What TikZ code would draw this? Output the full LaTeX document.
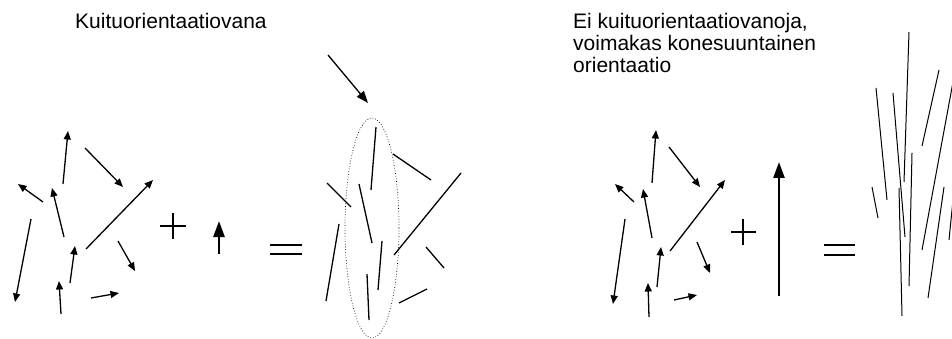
\documentclass[tikz,border=0pt]{standalone}
\usepackage{fontspec}
\setmainfont{Liberation Sans}
\usetikzlibrary{arrows.meta}
\begin{document}
\begin{tikzpicture}[x=1pt,y=-1pt,
  vec/.style={line width=1.3pt,-{Triangle[length=8.5pt,width=7pt]}},
  bigvec/.style={line width=2.6pt,-{Triangle[length=16pt,width=11pt]}},
  fib/.style={line width=1.3pt},
  fibthin/.style={line width=1pt},
  sym/.style={line width=1.4pt},
  eqsym/.style={line width=2.3pt},
  lbl/.style={anchor=base west,inner sep=0pt,font=\fontsize{21}{22}\selectfont}]
\useasboundingbox (0,0) rectangle (952,339);

% titles
\node[lbl] (tl) at (75,29) {Kuituorientaatiovana};
\node[lbl] (tr1) at (573,29) {Ei kuituorientaatiovanoja,};
\node[lbl] (tr2) at (573,51) {voimakas konesuuntainen};
\node[lbl] (tr3) at (573,73) {orientaatio};

% left random fibres (arrows)
\draw[vec] (63,184) -- (68,131);
\draw[vec] (85,148) -- (123,187);
\draw[vec] (86,249) -- (153,180);
\draw[vec] (43,202) -- (18,184);
\draw[vec] (64,237) -- (52,188);
\draw[vec] (31,219) -- (15,302);
\draw[vec] (70,283) -- (75,246);
\draw[vec] (118,241) -- (135,271);
\draw[vec] (61,314) -- (59,281);
\draw[vec] (91,298) -- (119,293);

% plus and small arrow
\draw[sym] (160,226) -- (186,226);
\draw[sym] (173,213) -- (173,239);
\draw[bigvec] (219,254) -- (219,221);

% equals
\draw[eqsym] (270,245) -- (302,245);
\draw[eqsym] (270,254) -- (302,254);

% pointer arrow and ellipse
\draw[line width=1.3pt,-{Triangle[length=12pt,width=9pt]}] (328,55) -- (368,103);
\draw[dotted,line width=0.7pt] (372,228) ellipse [x radius=27, y radius=110];

% middle fibres
\draw[fib] (376,127) -- (371,190);
\draw[fib] (393,154) -- (431,180);
\draw[fib] (327,183) -- (351,207);
\draw[fib] (359,184) -- (372,243);
\draw[fib] (461,173) -- (394,255);
\draw[fib] (339,224) -- (326,301);
\draw[fib] (382,241) -- (378,290);
\draw[fib] (426,247) -- (444,268);
\draw[fib] (367,274) -- (369,320);
\draw[fib] (427,289) -- (399,303);

% right random fibres (arrows)
\draw[vec] (652,183) -- (656,130);
\draw[vec] (669,147) -- (700,187);
\draw[vec] (670,251) -- (725,180);
\draw[vec] (634,202) -- (615,184);
\draw[vec] (652,238) -- (643,189);
\draw[vec] (625,219) -- (613,304);
\draw[vec] (657,287) -- (661,247);
\draw[vec] (697,242) -- (710,273);
\draw[vec] (649,317) -- (648,283);
\draw[vec] (674,300) -- (697,295);

% plus and big arrow
\draw[sym] (731,232) -- (756,232);
\draw[sym] (743,219) -- (743,245);
\draw[bigvec] (779,296) -- (779,162);

% equals
\draw[eqsym] (824,245) -- (855,245);
\draw[eqsym] (824,255) -- (855,255);

% right oriented fibres
\draw[fibthin] (876,88) -- (887,200);
\draw[fibthin] (893,93) -- (905,237);
\draw[fibthin] (909,32) -- (904,182);
\draw[fibthin] (939,70) -- (922,146);
\draw[fibthin] (953,82) -- (922,250);
\draw[fibthin] (944,187) -- (928,298);
\draw[fibthin] (912,153) -- (909,286);
\draw[fibthin] (899,188) -- (902,316);
\draw[fibthin] (872,187) -- (878,218);
\draw[fibthin] (953,200) -- (949,240);
\end{tikzpicture}
\end{document}
